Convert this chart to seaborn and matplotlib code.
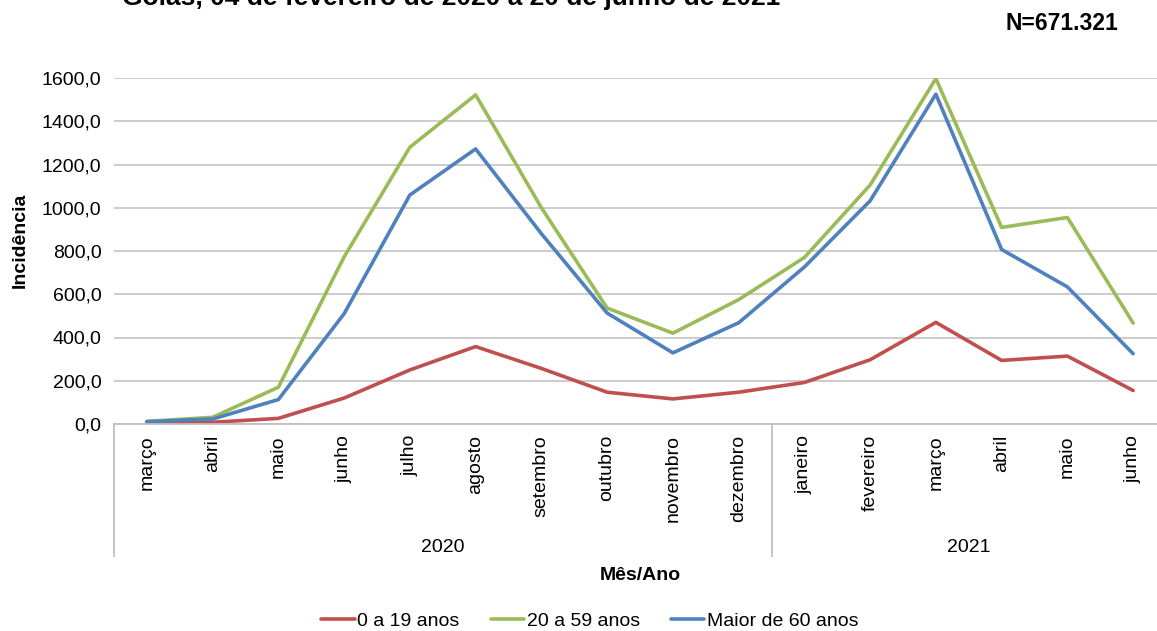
import pandas as pd
import matplotlib.pyplot as plt
import seaborn as sns

sns.set_theme(style="whitegrid")
plt.rcParams['font.family'] = ['Liberation Sans', 'DejaVu Sans']
plt.rcParams['text.color'] = 'black'
plt.rcParams['axes.labelcolor'] = 'black'

# Data
months = ['março', 'abril', 'maio', 'junho', 'julho', 'agosto', 'setembro',
          'outubro', 'novembro', 'dezembro', 'janeiro', 'fevereiro', 'março',
          'abril', 'maio', 'junho']
years = ['2020', '2021']
year_counts = [10, 6]

age_0_19 = [3, 8, 26, 120, 250, 358, 257, 147, 116, 147, 192, 297, 470, 294, 314, 155]
age_20_59 = [12, 31, 170, 773, 1280, 1522, 1000, 536, 420, 575, 770, 1105, 1597, 909, 955, 467]
age_60_plus = [11, 23, 113, 510, 1059, 1272, 880, 513, 329, 468, 726, 1032, 1525, 807, 634, 325]

series_names = ['0 a 19 anos', '20 a 59 anos', 'Maior de 60 anos']
colors = ['#C0504D', '#9BBB59', '#4F81BD']

# Long-form table for seaborn
rows = []
for name, vals in zip(series_names, [age_0_19, age_20_59, age_60_plus]):
    for i, v in enumerate(vals):
        rows.append({'pos': i, 'Incidência': v, 'Faixa': name})
df = pd.DataFrame(rows)

fig = plt.figure(figsize=(11.57, 6.31), dpi=100)
ax = fig.add_axes([114 / 1157, 207 / 631, 1052 / 1157, 346 / 631])

sns.lineplot(data=df, x='pos', y='Incidência', hue='Faixa',
             palette=dict(zip(series_names, colors)), linewidth=2.6,
             sort=False, ax=ax, legend=True)

ax.set_xlim(-0.5, len(months) - 0.5)
ax.set_ylim(0, 1600)
ax.set_yticks(range(0, 1601, 200))
ax.set_yticklabels([f'{v},0' for v in range(0, 1601, 200)], fontsize=14)
ax.set_xticks(range(len(months)))
ax.set_xticklabels(months, rotation=90, fontsize=14, va='top')

# group separators as long minor ticks
bounds = [-0.5]
for c in year_counts:
    bounds.append(bounds[-1] + c)
ax.set_xticks(bounds, minor=True)
ax.tick_params(axis='x', which='both', bottom=True)
ax.tick_params(axis='x', which='major', length=0, pad=8, colors='black')
ax.tick_params(axis='x', which='minor', length=96, width=1.3, color='#BFBFBF',
               direction='out')
ax.tick_params(axis='y', length=0, pad=9, colors='black')

ax.grid(axis='x', which='both', visible=False)
ax.grid(axis='y', which='major', color='#BFBFBF', linewidth=1.1)
for s in ['top', 'right', 'left']:
    ax.spines[s].set_visible(False)
ax.spines['bottom'].set_color('#BFBFBF')
ax.spines['bottom'].set_linewidth(1.3)

# year labels
start = 0
for yr, c in zip(years, year_counts):
    ax.text(start + (c - 1) / 2, -124 / 346, yr, transform=ax.get_xaxis_transform(),
            ha='center', va='center', fontsize=14)
    start += c

ax.set_xlabel('Mês/Ano', fontsize=14, fontweight='bold')
ax.xaxis.set_label_coords(0.5, -143 / 346)
ax.set_ylabel('Incidência', fontsize=14, fontweight='bold', va='center')
ax.yaxis.set_label_coords(-94 / 1052, 184 / 346)

handles, labels = ax.get_legend_handles_labels()
ax.get_legend().remove()
fig.legend(handles, labels, loc='center', bbox_to_anchor=(590 / 1157, 10 / 631),
           ncol=3, frameon=False, fontsize=14, handlelength=1.7,
           handletextpad=0.15, columnspacing=1.6)

fig.text(122 / 1157, 1 - 5 / 631, 'Goiás, 04 de fevereiro de 2020 a 20 de junho de 2021',
         ha='left', va='baseline', fontsize=19, fontweight='bold')
fig.text(1118 / 1157, 1 - 23 / 631, 'N=671.321', ha='right', va='center',
         fontsize=16.5, fontweight='bold')

fig.savefig('out.png', dpi=100)
